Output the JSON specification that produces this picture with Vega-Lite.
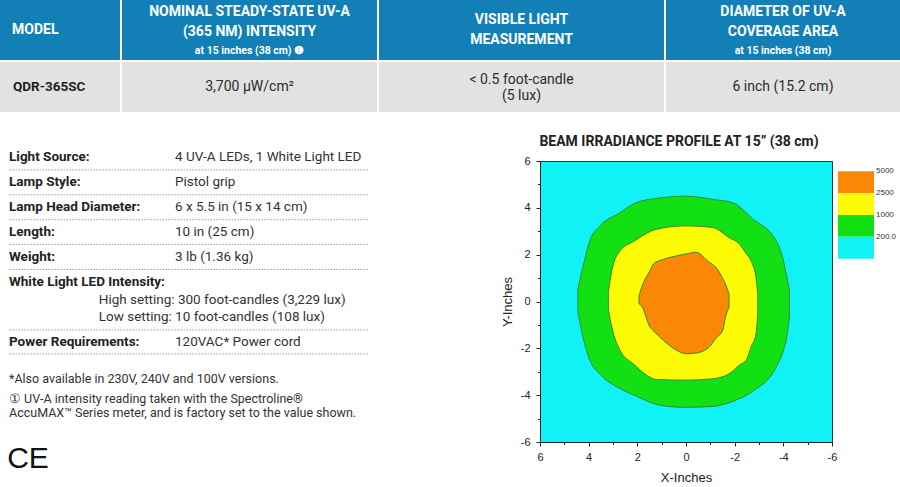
{
  "$schema": "https://vega.github.io/schema/vega-lite/v6.json",
  "padding": 0,
  "background": "#ffffff",
  "config": {
    "view": {"stroke": null},
    "axis": {"grid": false, "domainColor": "#222222", "tickColor": "#222222", "labelColor": "#222222", "labelFont": "Liberation Sans, Arial, sans-serif", "labelFontSize": 11, "titleFont": "Liberation Sans, Arial, sans-serif", "titleFontSize": 13, "titleFontWeight": "normal", "titleColor": "#222222", "labelFlush": false, "labelOverlap": false}
  },
  "spacing": 18,
  "vconcat": [
    {
      "spacing": 2,
      "vconcat": [
        {
          "spacing": 2,
          "hconcat": [
            {
              "width": 120, "height": 60,
              "view": {"fill": "#137fb7", "stroke": null},
              "data": {"values": [{"col": "m", "text": "MODEL"}]},
              "mark": {"type": "text", "align": "left", "baseline": "middle", "font": "Roboto, Liberation Sans, sans-serif", "fontSize": 14, "fontWeight": "bold", "color": "#ffffff"},
              "encoding": {
                "x": {"field": "col", "type": "nominal", "bandPosition": 0, "scale": {"type": "band", "paddingInner": 0, "paddingOuter": 0.125}, "axis": null},
                "text": {"field": "text"}
              }
            },
            {
              "width": 255, "height": 60,
              "view": {"fill": "#137fb7", "stroke": null},
              "data": {"values": [
                {"line": 1, "kind": "main", "text": "NOMINAL STEADY-STATE UV-A"},
                {"line": 2, "kind": "main", "text": "(365 NM) INTENSITY"},
                {"line": 3, "kind": "sub", "text": "at 15 inches (38 cm) ❶"}
              ]},
              "mark": {"type": "text", "baseline": "middle", "font": "Roboto, Liberation Sans, sans-serif", "fontWeight": "bold", "color": "#ffffff"},
              "encoding": {
                "y": {"field": "line", "type": "ordinal", "scale": {"type": "point", "padding": 0.5625, "align": 0.57}, "axis": null},
                "size": {"field": "kind", "type": "ordinal", "scale": {"domain": ["main", "sub"], "range": [14, 10.5]}, "legend": null},
                "text": {"field": "text"}
              }
            },
            {
              "width": 285, "height": 60,
              "view": {"fill": "#137fb7", "stroke": null},
              "data": {"values": [
                {"line": 1, "text": "VISIBLE LIGHT"},
                {"line": 2, "text": "MEASUREMENT"}
              ]},
              "mark": {"type": "text", "baseline": "middle", "font": "Roboto, Liberation Sans, sans-serif", "fontSize": 14, "fontWeight": "bold", "color": "#ffffff"},
              "encoding": {
                "y": {"field": "line", "type": "ordinal", "scale": {"type": "point", "padding": 1.2, "align": 0.51}, "axis": null},
                "text": {"field": "text"}
              }
            },
            {
              "width": 234, "height": 60,
              "view": {"fill": "#137fb7", "stroke": null},
              "data": {"values": [
                {"line": 1, "kind": "main", "text": "DIAMETER OF UV-A"},
                {"line": 2, "kind": "main", "text": "COVERAGE AREA"},
                {"line": 3, "kind": "sub", "text": "at 15 inches (38 cm)"}
              ]},
              "mark": {"type": "text", "baseline": "middle", "font": "Roboto, Liberation Sans, sans-serif", "fontWeight": "bold", "color": "#ffffff"},
              "encoding": {
                "y": {"field": "line", "type": "ordinal", "scale": {"type": "point", "padding": 0.5625, "align": 0.57}, "axis": null},
                "size": {"field": "kind", "type": "ordinal", "scale": {"domain": ["main", "sub"], "range": [14, 10.5]}, "legend": null},
                "text": {"field": "text"}
              }
            }
          ]
        },
        {
          "spacing": 2,
          "hconcat": [
            {
              "width": 120, "height": 50,
              "view": {"fill": "#e2e2e2", "stroke": null},
              "data": {"values": [{"col": "m", "text": "QDR-365SC"}]},
              "mark": {"type": "text", "align": "left", "baseline": "middle", "font": "Roboto, Liberation Sans, sans-serif", "fontSize": 13.5, "fontWeight": "bold", "color": "#1e1e1e"},
              "encoding": {
                "x": {"field": "col", "type": "nominal", "bandPosition": 0, "scale": {"type": "band", "paddingInner": 0, "paddingOuter": 0.138}, "axis": null},
                "text": {"field": "text"}
              }
            },
            {
              "width": 255, "height": 50,
              "view": {"fill": "#e2e2e2", "stroke": null},
              "data": {"values": [{"text": "3,700 µW/cm²"}]},
              "mark": {"type": "text", "baseline": "middle", "font": "Roboto, Liberation Sans, sans-serif", "fontSize": 14, "color": "#2b2b2b"},
              "encoding": {"text": {"field": "text"}}
            },
            {
              "width": 285, "height": 50,
              "view": {"fill": "#e2e2e2", "stroke": null},
              "data": {"values": [{"text": "< 0.5 foot-candle\n(5 lux)"}]},
              "mark": {"type": "text", "baseline": "middle", "dy": -7, "lineBreak": "\n", "lineHeight": 15.5, "font": "Roboto, Liberation Sans, sans-serif", "fontSize": 14, "color": "#2b2b2b"},
              "encoding": {"text": {"field": "text"}}
            },
            {
              "width": 234, "height": 50,
              "view": {"fill": "#e2e2e2", "stroke": null},
              "data": {"values": [{"text": "6 inch (15.2 cm)"}]},
              "mark": {"type": "text", "baseline": "middle", "font": "Roboto, Liberation Sans, sans-serif", "fontSize": 14, "color": "#2b2b2b"},
              "encoding": {"text": {"field": "text"}}
            }
          ]
        }
      ]
    },
    {
      "spacing": 131,
      "hconcat": [
        {
          "spacing": 6,
          "hconcat": [
            {
              "width": 1, "height": 1,
              "data": {"values": [{"k": 1}]},
              "mark": {"type": "rect", "opacity": 0}
            },
            {
              "spacing": 0,
              "vconcat": [
                {
                  "width": 359, "height": 139.5,
                  "data": {"values": [
                    {"item": "Light Source:", "value": "4 UV-A LEDs, 1 White Light LED"},
                    {"item": "Lamp Style:", "value": "Pistol grip"},
                    {"item": "Lamp Head Diameter:", "value": "6 x 5.5 in (15 x 14 cm)"},
                    {"item": "Length:", "value": "10 in (25 cm)"},
                    {"item": "Weight:", "value": "3 lb (1.36 kg)"}
                  ]},
                  "layer": [
                    {
                      "mark": {"type": "rule", "color": "#9b9b9b", "strokeWidth": 1, "strokeDash": [1.5, 1.5]},
                      "encoding": {"y": {"field": "item", "type": "nominal", "sort": null, "bandPosition": 1, "scale": {"type": "band", "paddingInner": 0, "paddingOuter": 0.3012, "align": 1}, "axis": null}}
                    },
                    {
                      "mark": {"type": "text", "align": "left", "baseline": "middle", "font": "Roboto, Liberation Sans, sans-serif", "fontSize": 13.5, "fontWeight": "bold", "color": "#222222"},
                      "encoding": {
                        "x": {"datum": "label", "type": "nominal", "bandPosition": 0, "scale": {"type": "band", "domain": ["label", "value"], "paddingInner": 0, "paddingOuter": 0.0813, "align": 0}, "axis": null},
                        "y": {"field": "item", "type": "nominal", "sort": null, "scale": {"type": "band", "paddingInner": 0, "paddingOuter": 0.3012, "align": 1}, "axis": null},
                        "text": {"field": "item"}
                      }
                    },
                    {
                      "mark": {"type": "text", "align": "left", "baseline": "middle", "font": "Roboto, Liberation Sans, sans-serif", "fontSize": 13.5, "color": "#333333"},
                      "encoding": {
                        "x": {"datum": "value", "type": "nominal", "bandPosition": 0, "scale": {"type": "band", "domain": ["label", "value"], "paddingInner": 0, "paddingOuter": 0.0813, "align": 0}, "axis": null},
                        "y": {"field": "item", "type": "nominal", "sort": null, "scale": {"type": "band", "paddingInner": 0, "paddingOuter": 0.3012, "align": 1}, "axis": null},
                        "text": {"field": "value"}
                      }
                    }
                  ]
                },
                {
                  "width": 359, "height": 59,
                  "data": {"values": [
                    {"line": 1, "kind": "head", "text": "White Light LED Intensity:"},
                    {"line": 2, "kind": "sub", "text": "High setting: 300 foot-candles (3,229 lux)"},
                    {"line": 3, "kind": "sub", "text": "Low setting: 10 foot-candles (108 lux)"}
                  ]},
                  "layer": [
                    {
                      "transform": [{"filter": "datum.kind == 'head'"}],
                      "mark": {"type": "text", "align": "left", "baseline": "middle", "font": "Roboto, Liberation Sans, sans-serif", "fontSize": 13.5, "fontWeight": "bold", "color": "#222222"},
                      "encoding": {
                        "x": {"field": "kind", "type": "nominal", "bandPosition": 0, "scale": {"type": "band", "domain": ["head", "sub"], "paddingInner": 0, "paddingOuter": 4.4394, "align": 0}, "axis": null},
                        "y": {"field": "line", "type": "ordinal", "scale": {"type": "point", "domain": [1, 2, 3], "padding": 0.72, "align": 0.5}, "axis": null},
                        "text": {"field": "text"}
                      }
                    },
                    {
                      "transform": [{"filter": "datum.kind == 'sub'"}],
                      "mark": {"type": "text", "align": "left", "baseline": "middle", "font": "Roboto, Liberation Sans, sans-serif", "fontSize": 13.5, "color": "#333333"},
                      "encoding": {
                        "x": {"field": "kind", "type": "nominal", "bandPosition": 0, "scale": {"type": "band", "domain": ["head", "sub"], "paddingInner": 0, "paddingOuter": 4.4394, "align": 0}, "axis": null},
                        "y": {"field": "line", "type": "ordinal", "scale": {"type": "point", "domain": [1, 2, 3], "padding": 0.72, "align": 0.5}, "axis": null},
                        "text": {"field": "text"}
                      }
                    }
                  ]
                },
                {
                  "width": 359, "height": 24,
                  "data": {"values": [{"item": "Power Requirements:", "value": "120VAC* Power cord"}]},
                  "layer": [
                    {
                      "mark": {"type": "rule", "color": "#9b9b9b", "strokeWidth": 1, "strokeDash": [1.5, 1.5]},
                      "encoding": {"y": {"field": "item", "type": "nominal", "bandPosition": 0, "scale": {"type": "band", "paddingInner": 0, "paddingOuter": 0}, "axis": null}}
                    },
                    {
                      "mark": {"type": "rule", "color": "#9b9b9b", "strokeWidth": 1, "strokeDash": [1.5, 1.5]},
                      "encoding": {"y": {"field": "item", "type": "nominal", "bandPosition": 1, "scale": {"type": "band", "paddingInner": 0, "paddingOuter": 0}, "axis": null}}
                    },
                    {
                      "mark": {"type": "text", "align": "left", "baseline": "middle", "font": "Roboto, Liberation Sans, sans-serif", "fontSize": 13.5, "fontWeight": "bold", "color": "#222222"},
                      "encoding": {
                        "x": {"datum": "label", "type": "nominal", "bandPosition": 0, "scale": {"type": "band", "domain": ["label", "value"], "paddingInner": 0, "paddingOuter": 0.0813, "align": 0}, "axis": null},
                        "y": {"field": "item", "type": "nominal", "scale": {"type": "band", "paddingInner": 0, "paddingOuter": 0}, "axis": null},
                        "text": {"field": "item"}
                      }
                    },
                    {
                      "mark": {"type": "text", "align": "left", "baseline": "middle", "font": "Roboto, Liberation Sans, sans-serif", "fontSize": 13.5, "color": "#333333"},
                      "encoding": {
                        "x": {"datum": "value", "type": "nominal", "bandPosition": 0, "scale": {"type": "band", "domain": ["label", "value"], "paddingInner": 0, "paddingOuter": 0.0813, "align": 0}, "axis": null},
                        "y": {"field": "item", "type": "nominal", "scale": {"type": "band", "paddingInner": 0, "paddingOuter": 0}, "axis": null},
                        "text": {"field": "value"}
                      }
                    }
                  ]
                },
                {
                  "width": 359, "height": 66,
                  "data": {"values": [
                    {"para": 1, "text": "*Also available in 230V, 240V and 100V versions."},
                    {"para": 2, "text": "① UV-A intensity reading taken with the Spectroline®\nAccuMAX™ Series meter, and is factory set to the value shown."}
                  ]},
                  "mark": {"type": "text", "align": "left", "baseline": "middle", "lineBreak": "\n", "lineHeight": 13.5, "font": "Roboto, Liberation Sans, sans-serif", "fontSize": 12.5, "color": "#333333"},
                  "encoding": {
                    "x": {"datum": "label", "type": "nominal", "bandPosition": 0, "scale": {"type": "band", "domain": ["label", "value"], "paddingInner": 0, "paddingOuter": 0.0813, "align": 0}, "axis": null},
                    "y": {"field": "para", "type": "ordinal", "scale": {"type": "band", "paddingInner": 0, "paddingOuter": 0.65, "align": 0.546}, "axis": null},
                    "text": {"field": "text"}
                  }
                },
                {
                  "width": 38, "height": 68,
                  "data": {"values": [{"text": "CE"}]},
                  "mark": {"type": "text", "baseline": "middle", "dy": 4, "font": "Liberation Sans, Arial, sans-serif", "fontSize": 30, "color": "#111111"},
                  "encoding": {"text": {"field": "text"}}
                }
              ]
            }
          ]
        },
        {
          "spacing": 0,
          "vconcat": [
            {
              "width": 278, "height": 23.5,
              "data": {"values": [{"title": "BEAM IRRADIANCE PROFILE AT 15” (38 cm)"}]},
              "mark": {"type": "text", "baseline": "middle", "font": "Roboto, Liberation Sans, sans-serif", "fontSize": 14, "fontWeight": "bold", "color": "#222222"},
              "encoding": {"text": {"field": "title"}}
            },
            {
              "spacing": 0,
              "hconcat": [
                {
                  "width": 292, "height": 281,
                  "view": {"fill": "#10f2f5", "stroke": "#333333", "strokeWidth": 1},
                  "data": {"values": [
                    {"band": "200-1000", "x": 4.44, "top": 0.55, "bottom": -0.45},
                    {"band": "200-1000", "x": 4.27, "top": 1.32, "bottom": -1.36},
                    {"band": "200-1000", "x": 3.95, "top": 2.6, "bottom": -2.51},
                    {"band": "200-1000", "x": 3.53, "top": 3.23, "bottom": -3.11},
                    {"band": "200-1000", "x": 2.71, "top": 3.79, "bottom": -3.72},
                    {"band": "200-1000", "x": 2.03, "top": 4.23, "bottom": -4.05},
                    {"band": "200-1000", "x": 1.07, "top": 4.42, "bottom": -4.43},
                    {"band": "200-1000", "x": 0, "top": 4.5, "bottom": -4.52},
                    {"band": "200-1000", "x": -1.11, "top": 4.36, "bottom": -4.48},
                    {"band": "200-1000", "x": -1.93, "top": 4.21, "bottom": -4.26},
                    {"band": "200-1000", "x": -2.75, "top": 3.52, "bottom": -3.83},
                    {"band": "200-1000", "x": -3.7, "top": 2.6, "bottom": -2.81},
                    {"band": "200-1000", "x": -4.03, "top": 1.62, "bottom": -2.0},
                    {"band": "200-1000", "x": -4.13, "top": 1.1, "bottom": -1.57},
                    {"band": "200-1000", "x": -4.25, "top": 0.5, "bottom": -0.65},
                    {"band": "1000-2500", "x": 3.19, "top": 0.4, "bottom": -0.35},
                    {"band": "1000-2500", "x": 3.05, "top": 1.32, "bottom": -1.09},
                    {"band": "1000-2500", "x": 2.71, "top": 2.17, "bottom": -2.09},
                    {"band": "1000-2500", "x": 2.18, "top": 2.55, "bottom": -2.65},
                    {"band": "1000-2500", "x": 1.2, "top": 3.09, "bottom": -3.33},
                    {"band": "1000-2500", "x": 0, "top": 3.23, "bottom": -3.36},
                    {"band": "1000-2500", "x": -1.1, "top": 3.16, "bottom": -3.3},
                    {"band": "1000-2500", "x": -1.78, "top": 2.72, "bottom": -3.08},
                    {"band": "1000-2500", "x": -2.19, "top": 2.46, "bottom": -2.72},
                    {"band": "1000-2500", "x": -2.47, "top": 2.05, "bottom": -2.51},
                    {"band": "1000-2500", "x": -2.67, "top": 1.74, "bottom": -1.95},
                    {"band": "1000-2500", "x": -2.88, "top": 1.0, "bottom": -1.37},
                    {"band": "1000-2500", "x": -2.95, "top": 0.3, "bottom": -0.5},
                    {"band": "2500-5000", "x": 1.93, "top": 0.25, "bottom": -0.1},
                    {"band": "2500-5000", "x": 1.82, "top": 0.61, "bottom": -0.2},
                    {"band": "2500-5000", "x": 1.48, "top": 1.32, "bottom": -1.09},
                    {"band": "2500-5000", "x": 1.34, "top": 1.6, "bottom": -1.25},
                    {"band": "2500-5000", "x": 0.93, "top": 1.8, "bottom": -1.66},
                    {"band": "2500-5000", "x": 0.38, "top": 1.95, "bottom": -2.09},
                    {"band": "2500-5000", "x": 0, "top": 2.03, "bottom": -2.23},
                    {"band": "2500-5000", "x": -0.41, "top": 2.1, "bottom": -2.2},
                    {"band": "2500-5000", "x": -0.96, "top": 1.67, "bottom": -1.94},
                    {"band": "2500-5000", "x": -1.23, "top": 1.46, "bottom": -1.57},
                    {"band": "2500-5000", "x": -1.51, "top": 0.98, "bottom": -1.23},
                    {"band": "2500-5000", "x": -1.64, "top": 0.7, "bottom": -0.6},
                    {"band": "2500-5000", "x": -1.77, "top": 0.3, "bottom": -0.25}
                  ]},
                  "encoding": {
                    "x": {"field": "x", "type": "quantitative", "scale": {"domain": [-6, 6], "reverse": true, "nice": false, "zero": false},
                      "axis": {"title": "X-Inches", "values": [-6, -5, -4, -3, -2, -1, 0, 1, 2, 3, 4, 5, 6], "labelExpr": "datum.value % 2 == 0 ? '' + datum.value : ''", "tickSize": {"condition": {"test": "datum.value % 2 != 0", "value": 2.5}, "value": 4}, "labelPadding": 5, "titlePadding": 9}},
                    "y": {"field": "top", "type": "quantitative", "stack": null, "scale": {"domain": [-6, 6], "nice": false, "zero": false},
                      "axis": {"title": "Y-Inches", "values": [-6, -5, -4, -3, -2, -1, 0, 1, 2, 3, 4, 5, 6], "labelExpr": "datum.value % 2 == 0 ? '' + datum.value : ''", "tickSize": {"condition": {"test": "datum.value % 2 != 0", "value": 2.5}, "value": 4}, "labelPadding": 6, "titlePadding": 6}},
                    "y2": {"field": "bottom"},
                    "color": {"field": "band", "type": "nominal", "scale": {"domain": ["2500-5000", "1000-2500", "200-1000", "0-200"], "range": ["#fa8706", "#fdfb04", "#12e012", "#10f2f5"]}, "legend": null}
                  },
                  "layer": [
                    {"transform": [{"filter": "datum.band == '200-1000'"}], "mark": {"type": "area", "interpolate": "monotone", "stroke": "#2e8b2e", "strokeWidth": 1, "opacity": 1, "fillOpacity": 1}},
                    {"transform": [{"filter": "datum.band == '1000-2500'"}], "mark": {"type": "area", "interpolate": "monotone", "stroke": "#2e8b2e", "strokeWidth": 1, "opacity": 1, "fillOpacity": 1}},
                    {"transform": [{"filter": "datum.band == '2500-5000'"}], "mark": {"type": "area", "interpolate": "monotone", "stroke": "#2e8b2e", "strokeWidth": 1, "opacity": 1, "fillOpacity": 1}}
                  ]
                },
                {
                  "width": 36, "height": 97.7,
                  "data": {"values": [
                    {"band": "2500-5000", "label": "5000"},
                    {"band": "1000-2500", "label": "2500"},
                    {"band": "200-1000", "label": "1000"},
                    {"band": "0-200", "label": "200.0"}
                  ]},
                  "layer": [
                    {
                      "mark": {"type": "rect"},
                      "encoding": {
                        "x": {"datum": "box", "type": "nominal", "scale": {"type": "band", "domain": ["box"], "paddingInner": 0, "paddingOuter": 0}, "axis": null},
                        "y": {"field": "label", "type": "nominal", "sort": null, "scale": {"type": "band", "paddingInner": 0, "paddingOuter": 0.2357, "align": 1}, "axis": null},
                        "color": {"field": "band", "type": "nominal", "scale": {"domain": ["2500-5000", "1000-2500", "200-1000", "0-200"], "range": ["#fa8706", "#fdfb04", "#12e012", "#10f2f5"]}, "legend": null}
                      }
                    },
                    {
                      "mark": {"type": "text", "align": "left", "baseline": "middle", "font": "Liberation Sans, Arial, sans-serif", "fontSize": 8, "color": "#333333"},
                      "encoding": {
                        "x": {"datum": "box", "type": "nominal", "bandPosition": 1.055, "scale": {"type": "band", "domain": ["box"], "paddingInner": 0, "paddingOuter": 0}, "axis": null},
                        "y": {"field": "label", "type": "nominal", "sort": null, "bandPosition": 0, "scale": {"type": "band", "paddingInner": 0, "paddingOuter": 0.2357, "align": 1}, "axis": null},
                        "text": {"field": "label"}
                      }
                    }
                  ]
                }
              ]
            }
          ]
        }
      ]
    }
  ]
}
